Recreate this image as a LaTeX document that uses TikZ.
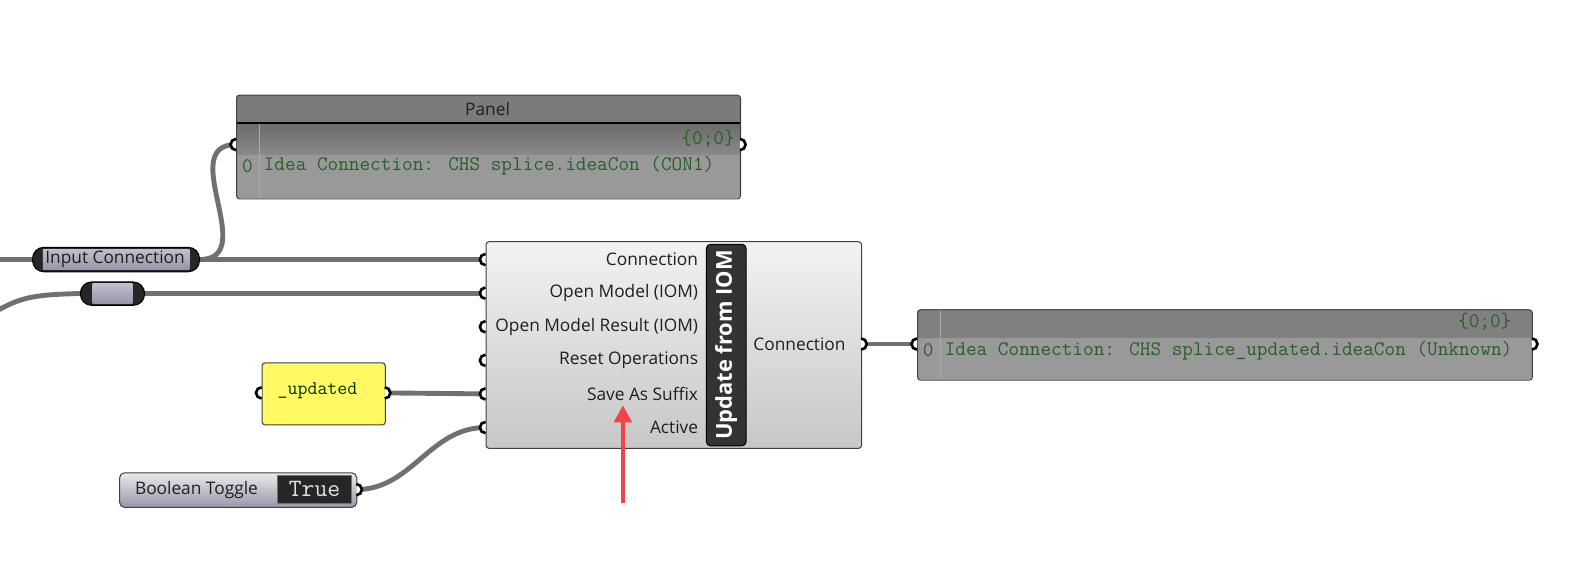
\documentclass[tikz,border=0pt]{standalone}
\usepackage{fontspec}
\setmainfont{Open Sans}
\usetikzlibrary{arrows.meta}

\definecolor{wiregray}{RGB}{112,112,112}
\definecolor{hdrgray}{RGB}{123,123,123}
\definecolor{rowgray}{RGB}{128,128,128}
\definecolor{datagray}{RGB}{153,153,153}
\definecolor{sepgray}{RGB}{170,170,170}
\definecolor{datagreen}{RGB}{40,96,40}
\definecolor{pilltop}{RGB}{190,190,206}
\definecolor{pillbot}{RGB}{150,150,170}
\definecolor{notegold}{RGB}{255,250,100}
\definecolor{arrowred}{RGB}{242,68,72}

% grip on the left (input) or the right (output) side of a box
\newcommand{\gripin}[1]{%
  \fill[white] (#1) ++(0,5.5) arc[start angle=90,end angle=270,radius=5.5] -- cycle;
  \draw[grip] (#1) ++(0,5.5) arc[start angle=90,end angle=270,radius=5.5];}
\newcommand{\gripout}[1]{%
  \fill[white] (#1) ++(0,5.5) arc[start angle=90,end angle=-90,radius=5.5] -- cycle;
  \draw[grip] (#1) ++(0,5.5) arc[start angle=90,end angle=-90,radius=5.5];}

\begin{document}
\begin{tikzpicture}[x=1pt,y=-1pt]
	\tikzstyle{wire} = [draw=wiregray, line width=4.8pt]
	\tikzstyle{grip} = [draw=black, line width=2.6pt]
	\tikzstyle{uitext} = [font=\fontsize{17}{20}\selectfont, text=black!88, inner sep=0pt]
	\tikzstyle{datatext} = [font=\ttfamily\fontsize{20.3}{22}\selectfont, text=datagreen, inner sep=0pt]
	\tikzstyle{frame} = [draw=black!75, line width=1pt, rounded corners=3pt, inner sep=0pt, anchor=north west]
	\tikzstyle{pill} = [draw=black, line width=1pt, fill=black!85, rounded corners=11pt, inner sep=0pt]
	\fill[white] (0,0) rectangle (1568,577);
	\useasboundingbox (0,0) rectangle (1568,577);

	% grips
	\coordinate (edgeL) at (-10,255);
	\coordinate (farL) at (-40,328);
	\coordinate (pnlin) at (232,142);
	\coordinate (pnlout) at (727,142);
	\coordinate (compout) at (846,338);
	\coordinate (outin) at (901,338);
	\coordinate (outout) at (1505,338);
	\coordinate (sfxin) at (257,386);
	\coordinate (sfxout) at (378,386);
	\coordinate (toggleout) at (350,481);
	\foreach \y [count=\i] in {255,288,321,354,387,420}
		\coordinate (in\i) at (477,\y);

	% wires
	\draw[wire] (edgeL) -- (45,255);
	\draw[wire] (185,255) -- (in1);
	\draw[wire] (185,255) -- (196,255) .. controls +(60,0) and +(-60,0) .. (pnlin);
	\draw[wire] (farL) .. controls (20,290) .. (90,288);
	\draw[wire] (130,288) -- (in2);
	\draw[wire] (sfxout) -- (in5);
	\draw[wire] (toggleout) .. controls +(55,0) and +(-55,0) .. (in6);
	\draw[wire] (compout) -- (outin);

	% top panel
	\begin{scope}
		\clip[rounded corners=3pt] (232,93) rectangle (727,195);
		\fill[datagray] (232,93) rectangle (727,195);
		\shade[top color=black!58, bottom color=black!46] (232,121) rectangle (727,152);
		\fill[hdrgray] (232,93) rectangle (727,121);
		\draw[sepgray, line width=1pt] (255,122) -- (255,195);
		\draw[black, line width=1.6pt] (232,121) -- (727,121);
	\end{scope}
	\node[frame, minimum width=495pt, minimum height=102pt] (panel) at (232,93) {};
	\node[uitext] (paneltitle) at (479,107) {Panel};
	\node[datatext, anchor=east] (panelpath) at (722,136) {\{0;0\}};
	\node[datatext] (panelidx) at (243,163) {0};
	\node[datatext, anchor=west] (paneldata) at (259,163) {Idea Connection: CHS splice.ideaCon (CON1)};

	% parameters on the left
	\node[pill, minimum width=164pt, minimum height=24pt] (icpill) at (114,255) {};
	\shade[top color=pilltop, bottom color=pillbot] (42,245) rectangle (186,265);
	\node[uitext] (icname) at (113,255) {Input Connection};
	\node[pill, minimum width=63pt, minimum height=23pt] (mdpill) at (110.5,288.5) {};
	\shade[top color=pilltop, bottom color=pillbot] (91,279) rectangle (130,298);

	\node[frame, fill=notegold, minimum width=121pt, minimum height=61pt] (sfxpanel) at (257,356) {};
	\node[font=\ttfamily\fontsize{19}{22}\selectfont, text=black!80!green, inner sep=0pt] (sfxtext) at (312,384) {\_updated};

	\node[frame, rounded corners=5pt, top color=black!8, bottom color=pillbot, minimum width=233pt, minimum height=34pt] (toggle) at (117,464) {};
	\node[uitext] (togglename) at (193,481) {Boolean Toggle};
	\node[draw=black!55, line width=1pt, fill=black!85, minimum width=73pt, minimum height=27pt, inner sep=0pt] (toggleval) at (309,481) {};
	\node[font=\ttfamily\fontsize{24.5}{26}\selectfont, text=white!88!black, inner sep=0pt] (toggletext) at (309,480) {True};

	% component
	\node[frame, top color=black!5, bottom color=black!22, minimum width=369pt, minimum height=203pt] (comp) at (477,237) {};
	\foreach \y/\t [count=\i] in {255/Connection, 288/Open Model (IOM), 321/Open Model Result (IOM), 354/Reset Operations, 387/Save As Suffix, 420/Active}
		\node[uitext, anchor=east] (lbl\i) at (686,\y) {\t};
	\node[draw=black, line width=1pt, fill=black!80, rounded corners=4pt, rotate=90, minimum width=198pt, minimum height=39pt, inner sep=0pt,
		text=white, font=\fontsize{21.5}{24}\selectfont\bfseries] (compname) at (713.5,339) {Update from IOM};
	\node[uitext, anchor=west] (outlbl) at (740,338) {Connection};

	% output panel
	\begin{scope}
		\clip[rounded corners=3pt] (901,304) rectangle (1505,373);
		\fill[datagray] (901,304) rectangle (1505,373);
		\fill[rowgray] (901,304) rectangle (1505,332);
		\draw[sepgray, line width=1pt] (924,304) -- (924,373);
	\end{scope}
	\node[frame, minimum width=604pt, minimum height=69pt] (outpanel) at (901,304) {};
	\node[datatext, anchor=east] (outpath) at (1485,316) {\{0;0\}};
	\node[datatext] (outidx) at (912,344) {0};
	\node[datatext, anchor=west] (outdata) at (928,344) {Idea Connection: CHS splice\_updated.ideaCon (Unknown)};

	% grips on top of everything
	\gripin{pnlin} \gripout{pnlout}
	\foreach \i in {1,...,6} { \gripin{in\i} }
	\gripout{compout}
	\gripin{outin} \gripout{outout}
	\gripin{sfxin} \gripout{sfxout}
	\gripout{toggleout}

	% pointer
	\coordinate (arrtail) at (612,494);
	\coordinate (arrtip) at (612,398);
	\draw[arrowred, line width=4.5pt, -{Triangle[width=17pt,length=17pt]}] (arrtail) -- (arrtip);
\end{tikzpicture}
\end{document}
